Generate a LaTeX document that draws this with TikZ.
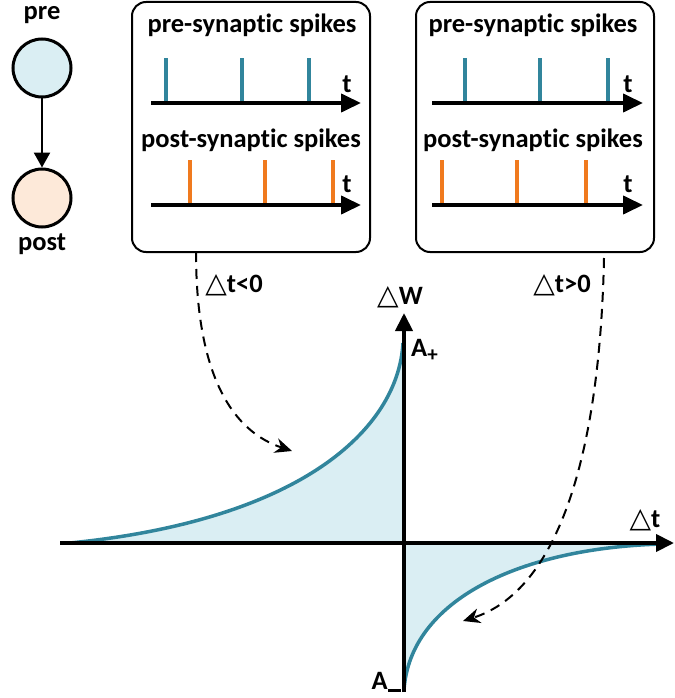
\documentclass[tikz,border=0pt]{standalone}
\usepackage{fontspec}
\setmainfont{Carlito}[Ligatures=NoCommon]
\newfontfamily\symfont{DejaVu Sans}
\usetikzlibrary{arrows.meta}
\definecolor{spiketeal}{HTML}{31859C}
\definecolor{spikeorange}{HTML}{F07A1E}
\definecolor{prefill}{HTML}{DAEEF3}
\definecolor{postfill}{HTML}{FDE9D9}
\definecolor{areafill}{HTML}{DAEEF3}
\newcommand{\tri}{{\symfont\fontsize{28}{30}\selectfont △}}
\begin{document}
\begin{tikzpicture}[x=1pt,y=-1pt,
  lbl/.style={font=\fontsize{26.5}{30}\selectfont\bfseries, inner sep=0pt},
  neuron/.style={circle, draw=black, line width=3pt, minimum size=58pt, inner sep=0pt},
  panel/.style={draw=black, line width=2pt, rounded corners=14pt, minimum width=238pt, minimum height=250pt, inner sep=0pt},
  taxis/.style={line width=4pt, -{Triangle[length=20pt,width=18pt]}},
  spre/.style={line width=3.5pt, spiketeal},
  spost/.style={line width=3.5pt, spikeorange},
  mainaxis/.style={line width=4pt, -{Triangle[length=18pt,width=17pt]}},
  curve/.style={line width=3.5pt, spiketeal},
  dasharrow/.style={line width=2pt, dash pattern=on 10pt off 7pt, -{Stealth[length=17pt,width=15pt]}}
]
\useasboundingbox (0,0) rectangle (674,698);

% neurons
\node[lbl] (prelbl) at (42,15) {pre};
\node[neuron, fill=prefill] (pre) at (42,68) {};
\node[neuron, fill=postfill] (post) at (42,198) {};
\node[lbl] (postlbl) at (42,244) {post};
\draw[line width=2.5pt, -{Triangle[length=15pt,width=16pt]}] (pre) -- (post);

% panel 1
\node[panel] (box1) at (251,127) {};
\node[lbl] (b1pre) at (252,25) {pre-synaptic spikes};
\node[lbl] (b1post) at (251,140) {post-synaptic spikes};
\draw[spre] (166,103) -- (166,58) (242,103) -- (242,58) (309,103) -- (309,58);
\draw[spost] (190,205) -- (190,160) (265,205) -- (265,160) (333,205) -- (333,160);
\draw[taxis] (151,103) -- (361,103);
\draw[taxis] (151,205) -- (361,205);
\node[lbl] (b1t1) at (347,84) {t};
\node[lbl] (b1t2) at (347,184) {t};

% panel 2
\node[panel] (box2) at (535,127) {};
\node[lbl] (b2pre) at (533,25) {pre-synaptic spikes};
\node[lbl] (b2post) at (533,140) {post-synaptic spikes};
\draw[spre] (465,103) -- (465,58) (540,103) -- (540,58) (608,103) -- (608,58);
\draw[spost] (442,205) -- (442,160) (517,205) -- (517,160) (586,205) -- (586,160);
\draw[taxis] (432,103) -- (643,103);
\draw[taxis] (432,205) -- (643,205);
\node[lbl] (b2t1) at (628,84) {t};
\node[lbl] (b2t2) at (628,184) {t};

% STDP curve
\fill[areafill] (70,543) .. controls (300,520) and (398,430) .. (403,343) -- (404,543) -- cycle;
\fill[areafill] (404,690) .. controls (410,600) and (520,548) .. (660,544) -- (660,543) -- (404,543) -- cycle;
\draw[curve] (70,543) .. controls (300,520) and (398,430) .. (403,343);
\draw[curve] (404,690) .. controls (410,600) and (520,548) .. (662,544);

% axes
\coordinate (xstart) at (60,543);
\coordinate (xend) at (674,543);
\coordinate (ystart) at (404,692);
\coordinate (yend) at (404,313);
\draw[mainaxis] (xstart) -- (xend);
\draw[mainaxis] (ystart) -- (yend);
\node[lbl] (dW) at (400,297) {\tri W};
\node[lbl] (dt) at (645,520) {\tri t};
\node[lbl, anchor=west] (Aplus) at (411,350) {A\raisebox{-5pt}{\fontsize{21}{22}\selectfont +}};
\node[lbl, anchor=east] (Aminus) at (401,682) {A\raisebox{-2pt}{\rule{13pt}{2.2pt}}};

% dashed arrows
\coordinate (d1s) at (196,252);
\coordinate (d1e) at (292,451);
\draw[dasharrow] (d1s) .. controls (196,380) and (235,432) .. (d1e);
\node[lbl] (lt0) at (234,285) {\tri t<0};
\coordinate (d2s) at (604,258);
\coordinate (d2e) at (463,621);
\draw[dasharrow] (d2s) .. controls (600,450) and (560,590) .. (d2e);
\node[lbl] (gt0) at (562,285) {\tri t>0};
\end{tikzpicture}
\end{document}
